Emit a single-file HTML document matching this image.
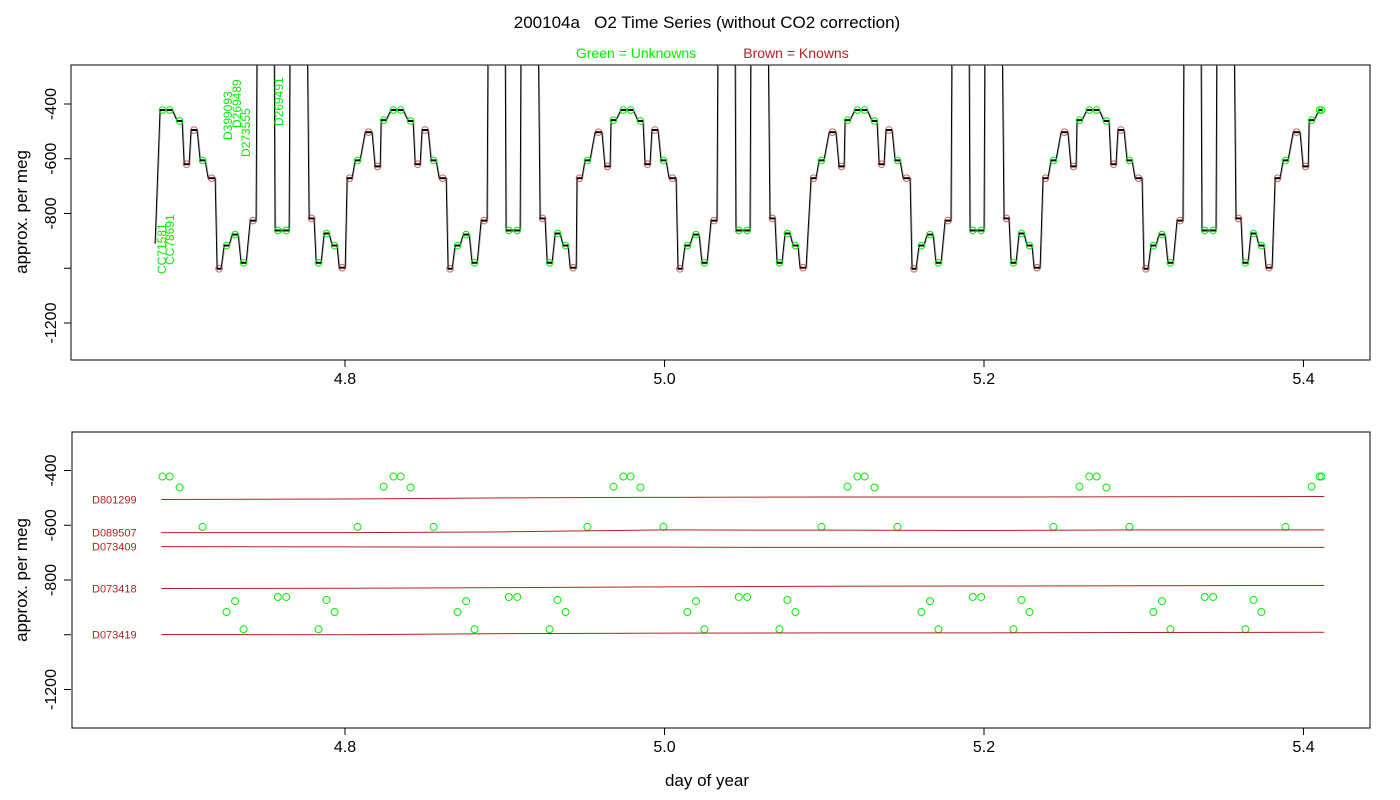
<!DOCTYPE html>
<html><head><meta charset="utf-8"><style>
html,body{margin:0;padding:0;background:#fff}
svg{display:block;font-family:"Liberation Sans",sans-serif}
</style></head><body>
<svg id="chart" width="1400" height="800" viewBox="0 0 1400 800" xmlns="http://www.w3.org/2000/svg">
<defs><clipPath id="clipTop"><rect x="71" y="65" width="1299" height="295"/></clipPath></defs>
<text x="707" y="28" font-size="17" text-anchor="middle" xml:space="preserve">200104a   O2 Time Series (without CO2 correction)</text>
<text x="636" y="58" font-size="14" fill="#00ee00" text-anchor="middle">Green = Unknowns</text>
<text x="796" y="58" font-size="14" fill="#b22222" text-anchor="middle">Brown = Knowns</text>
<rect x="71" y="65" width="1299" height="295" fill="none" stroke="#000"/>
<rect x="72" y="432" width="1298" height="296" fill="none" stroke="#000"/>
<text transform="translate(27,212) rotate(-90)" font-size="17" text-anchor="middle">approx. per meg</text>
<text transform="translate(27,580) rotate(-90)" font-size="17" text-anchor="middle">approx. per meg</text>
<text x="707" y="786" font-size="17" text-anchor="middle">day of year</text>
<g id="topAxes"></g><g id="botAxes"></g>
<g id="topPlot" clip-path="url(#clipTop)"></g>
<g id="topMarks"></g>
<g id="botPlot"></g>
<g font-size="12" fill="#00ee00">
<text transform="translate(166,274) rotate(-90)">CC71581</text>
<text transform="translate(174,265) rotate(-90)">CC78691</text>
<text transform="translate(232,140) rotate(-90)">D399093</text>
<text transform="translate(241,128) rotate(-90)">D269489</text>
<text transform="translate(250,157) rotate(-90)">D273555</text>
<text transform="translate(283,126) rotate(-90)">D269491</text>
</g>
</svg>
<script>
// one measurement cycle: step start/end offsets (days), level (per meg, null = off-scale spike), type
const stepStart=[0,.0050,.0113,.0175,.0213,.0275,.0382,.0426,.0469,.0526,.0576,.0632,.0676,.0726,.0782,.0839,.0883,.0995,.1089,.1208,.1252,.1302,.1352,.1396];
const stepEnd  =[.0031,.0081,.0156,.0207,.0244,.0351,.0413,.0457,.0507,.0557,.0620,.0657,.0707,.0764,.0814,.0876,.0989,.1083,.1196,.1239,.1283,.1333,.1383,.1434];
const stepLevel=[-671,-606,-503,-628,-459,-422,-462,-620,-495,-606,-671,-1002,-917,-877,-980,-826,null,-862,null,-818,-980,-873,-917,-998];
const stepType =["B","G","B","B","G","G2","G","B","B","G","B","B","G","G","G","B","S","G2","S","B","G","G","G","B"];
const cycleStart=[4.6567,4.8013,4.9452,5.0917,5.2369,5.3822];
const seriesStart=[4.6811,-910];
const seriesEnd=5.4116;
// bottom panel reference lines
const refNames=["D801299","D089507","D073409","D073418","D073419"];
const refTimes=[4.685,4.8,4.9,5.0,5.1,5.2,5.3,5.413];
const refVals=[[-506,-504,-500,-498,-497,-497,-496,-495],[-627,-627,-624,-617,-618,-619,-617,-617],[-678,-679,-680,-680,-681,-681,-681,-681],[-831,-830,-828,-825,-823,-822,-821,-820],[-999,-1000,-996,-994,-993,-993,-992,-991]];
const yTicks=[-400,-600,-800,-1000,-1200];
const yTickLabels=["-400","-600","-800","","-1200"];
const xTicks=[4.8,5.0,5.2,5.4];
const xTickLabels=["4.8","5.0","5.2","5.4"];

const NS="http://www.w3.org/2000/svg";
const X=t=>345+(t-4.8)*1597.5;
const YT=v=>104-(v+400)*109.5/400;
const YB=v=>470.5-(v+400)*109.5/400;
function mk(tag,attrs,parent){const e=document.createElementNS(NS,tag);for(const k in attrs)e.setAttribute(k,attrs[k]);parent.appendChild(e);return e;}

function axes(g,Y,top,bottom,pre){
  for(let i=0;i<yTicks.length;i++){
    const y=Y(yTicks[i]);
    const l=mk('line',{x1:64,x2:71,y1:y,y2:y,stroke:'#000'},g);
    
    
    if(yTickLabels[i]){
      const t=mk('text',{transform:`translate(56,${y}) rotate(-90)`,'font-size':16,'text-anchor':'middle'},g);
      
      
      t.textContent=yTickLabels[i];
    }
  }
  for(let i=0;i<xTicks.length;i++){
    const x=X(xTicks[i]);
    const l=mk('line',{x1:x,x2:x,y1:bottom,y2:bottom+7,stroke:'#000'},g);
    
    
    const t=mk('text',{x:x,y:bottom+24,'font-size':16,'text-anchor':'middle'},g);
    
    
    t.textContent=xTickLabels[i];
  }
}
axes(document.getElementById('topAxes'),YT,65,360,'top');
axes(document.getElementById('botAxes'),YB,432,728,'bottom');

// build series
const pts=[[seriesStart[0],seriesStart[1]]];
const plateaus=[];
cycleStart.forEach(T=>{
  for(let i=0;i<stepStart.length;i++){
    let a=T+stepStart[i],b=T+stepEnd[i];
    if(a<seriesStart[0]) continue;
    if(a>seriesEnd) break;
    if(b>seriesEnd) b=seriesEnd;
    const v=stepLevel[i]===null?-100:stepLevel[i];
    pts.push([a,v],[b,v]);
    if(stepLevel[i]!==null) plateaus.push([a,b,v,stepType[i]]);
  }
});
const tp=document.getElementById('topPlot');
const sh=mk('polyline',{points:pts.map(p=>X(p[0]+0.0004)+','+YT(p[1])).join(' '),fill:'none',stroke:'#aaa','stroke-width':1.3},tp);


const ln=mk('polyline',{points:pts.map(p=>X(p[0])+','+YT(p[1])).join(' '),fill:'none',stroke:'#000','stroke-width':1},tp);



const tm=document.getElementById('topMarks'), bp=document.getElementById('botPlot');
plateaus.forEach(p=>{
  const [a,b,v,ty]=p;
  const seg=mk('line',{x1:X(a),x2:X(b),y1:YT(v),y2:YT(v),stroke:'#000','stroke-width':2},tm);
  
  
  const mids=ty==="G2"?[a+(b-a)*0.2,a+(b-a)*0.8]:[(a+b)/2];
  const col=ty==="B"?'#b22222':'#00ee00';
  mids.forEach(m=>{
    const c=mk('circle',{cx:X(m),cy:YT(v),r:3.3,fill:'none',stroke:col,'stroke-width':1,opacity:ty==="B"?0.7:1},tm);
    
    
    if(ty!=="B"){
      const c2=mk('circle',{cx:X(m),cy:YB(v),r:3.5,fill:'none',stroke:'#00ee00','stroke-width':1},bp);
      
      
    }
  });
});

refNames.forEach((n,k)=>{
  const l=mk('polyline',{points:refTimes.map((t,i)=>X(t)+','+YB(refVals[k][i])).join(' '),fill:'none',stroke:'#b22222','stroke-width':1},bp);
  
  
  const t=mk('text',{x:92,y:YB(refVals[k][0])+4,'font-size':11,fill:'#b22222'},bp);
  
  
  t.textContent=n;
});
</script>
</body></html>
